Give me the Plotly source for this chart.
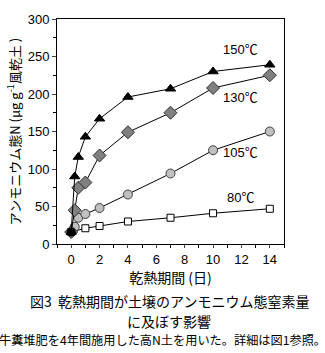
import plotly.graph_objects as go

days = [0, 0.25, 0.5, 1, 2, 4, 7, 10, 14]
n150 = [16, 90, 116, 143, 167, 196, 207, 230, 239]
n130 = [16, 45, 75, 82, 118, 149, 175, 208, 225]
n105 = [16, 23, 35, 40, 48, 66, 94, 125, 150]
days80 = [0, 1, 2, 4, 7, 10, 14]
n80 = [16, 21, 24, 30, 35, 41, 47]
labels = ["150℃", "130℃", "105℃", "80℃"]
label_x = [11.9, 11.9, 11.9, 11.9]
label_y = [260, 196, 122, 62]

FONT = "Liberation Sans, Arial, Noto Sans CJK JP"
JP = "Noto Sans CJK JP, Liberation Sans"

fig = go.Figure()
line = dict(color="black", width=1)
fig.add_trace(go.Scatter(x=days80, y=n80, mode="lines+markers", line=line,
                         marker=dict(symbol="square", size=7, color="white",
                                     line=dict(color="black", width=1))))
fig.add_trace(go.Scatter(x=days, y=n105, mode="lines+markers", line=line,
                         marker=dict(symbol="circle", size=9, color="#c0c0c0",
                                     line=dict(color="#404040", width=1))))
fig.add_trace(go.Scatter(x=days, y=n130, mode="lines+markers", line=line,
                         marker=dict(symbol="diamond", size=10, color="#808080",
                                     line=dict(color="#303030", width=1))))
fig.add_trace(go.Scatter(x=days, y=n150, mode="lines+markers", line=line,
                         marker=dict(symbol="triangle-up", size=9, color="black",
                                     line=dict(color="black", width=1))))
fig.add_trace(go.Scatter(x=days[:1], y=n150[:1], mode="markers",
                         marker=dict(symbol="circle", size=9, color="black")))

for t, x, y in zip(labels, label_x, label_y):
    fig.add_annotation(x=x, y=y, text=t, showarrow=False, xref="x", yref="y",
                       font=dict(family=FONT, size=13, color="black"))

# caption lines: (text, pixel centre x, pixel centre y, font size)
captions = [
    ("図3  乾熱期間が土壌のアンモニウム態窒素量", 169, 302, 14),
    ("に及ぼす影響", 169, 321.5, 14),
    ("牛糞堆肥を4年間施用した高N土を用いた。詳細は図1参照。", 162.5, 341, 12.2),
]
for text, px, py, size in captions:
    fig.add_annotation(x=(px - 57) / 227, y=(244 - py) / 227, xref="paper", yref="paper",
                       showarrow=False, text=text, xanchor="center", yanchor="middle",
                       borderpad=0, font=dict(family=JP, size=size, color="black"))

fig.update_layout(
    width=325, height=353,
    margin=dict(l=57, r=41, t=17, b=109, pad=0),
    paper_bgcolor="white", plot_bgcolor="white",
    showlegend=False,
    font=dict(family=FONT, size=13, color="black"),
    xaxis=dict(range=[-1, 15], tickvals=[0, 2, 4, 6, 8, 10, 12, 14],
               showgrid=False, zeroline=False, showline=True, linecolor="black",
               linewidth=1, mirror=True, ticks="outside", ticklen=3,
               minor=dict(dtick=1, ticks="outside", ticklen=3, tickcolor="black"),
               tickfont=dict(family=FONT, size=13),
               title=dict(text="乾熱期間 (日)", font=dict(family=JP, size=14), standoff=4)),
    yaxis=dict(range=[0, 300], dtick=50, showgrid=False, zeroline=False,
               showline=True, linecolor="black", linewidth=1, mirror=True,
               ticks="outside", ticklen=4,
               minor=dict(dtick=25, ticks="outside", ticklen=3, tickcolor="black"),
               tickfont=dict(family=FONT, size=13),
               title=dict(text="アンモニウム態N (μg g<sup>-1</sup>風乾土 )",
                          font=dict(family=JP, size=13), standoff=4)),
)
fig.write_html("out.html")
